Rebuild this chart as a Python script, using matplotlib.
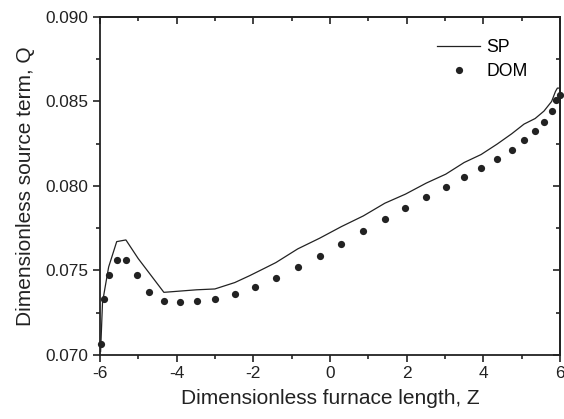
import matplotlib
matplotlib.use('Agg')
import matplotlib.pyplot as plt
from matplotlib.ticker import MultipleLocator, FormatStrFormatter

plt.rcParams['font.family'] = ['Liberation Sans', 'DejaVu Sans']
plt.rcParams['axes.unicode_minus'] = False

# SP solution (line)
z_sp = [-5.98, -5.93, -5.87, -5.77, -5.56, -5.32, -5.00, -4.33, -3.48, -3.00,
        -2.48, -2.09, -1.70, -1.41, -0.84, -0.27, 0.30, 0.87, 1.43, 1.97,
        2.51, 3.02, 3.50, 3.94, 4.36, 4.74, 5.06, 5.35, 5.58, 5.78,
        5.88, 5.93, 6.00]
q_sp = [0.0702, 0.0731, 0.0739, 0.0752, 0.0767, 0.0768, 0.0757, 0.0737, 0.07385, 0.0739,
        0.07428, 0.07469, 0.07513, 0.07546, 0.07627, 0.07690, 0.07759, 0.07822, 0.07897, 0.07951,
        0.08016, 0.08069, 0.08138, 0.08185, 0.08247, 0.08308, 0.08365, 0.08398, 0.08442, 0.08499,
        0.08558, 0.08578, 0.08578]

# DOM solution (points)
z_dom = [-5.97, -5.89, -5.76, -5.56, -5.32, -5.04, -4.71, -4.33, -3.92, -3.47,
         -2.99, -2.48, -1.96, -1.41, -0.84, -0.27, 0.30, 0.87, 1.43, 1.97,
         2.51, 3.02, 3.50, 3.94, 4.36, 4.74, 5.06, 5.35, 5.58, 5.78,
         5.90, 6.00]
q_dom = [0.07065, 0.07333, 0.07472, 0.07564, 0.07564, 0.07472, 0.07373, 0.07321, 0.07314, 0.07320,
         0.07331, 0.07359, 0.07400, 0.07452, 0.07517, 0.07586, 0.07657, 0.07730, 0.07801, 0.07871,
         0.07935, 0.07996, 0.08053, 0.08107, 0.08158, 0.08213, 0.08272, 0.08324, 0.08375, 0.08440,
         0.08509, 0.08538]

fig = plt.figure(figsize=(5.64, 4.19), dpi=100)
ax = fig.add_axes([0.177, 0.153, 0.816, 0.807])

ink = '#222222'
ax.plot(z_sp, q_sp, color=ink, lw=0.9, label='SP')
ax.plot(z_dom, q_dom, 'o', color=ink, ms=5.2, mec='none', label='DOM', clip_on=False)

ax.set_xlim(-6, 6)
ax.set_ylim(0.070, 0.090)
ax.xaxis.set_major_locator(MultipleLocator(2))
ax.xaxis.set_minor_locator(MultipleLocator(1))
ax.yaxis.set_major_locator(MultipleLocator(0.005))
ax.yaxis.set_minor_locator(MultipleLocator(0.0025))
ax.yaxis.set_major_formatter(FormatStrFormatter('%.3f'))
ax.tick_params(which='both', direction='out', color=ink, width=1.2, labelsize=12.4,
               labelcolor=ink, top=False, right=False)
ax.tick_params(which='major', length=5, pad=3)
ax.tick_params(which='minor', length=3)

# inward ticks on the top and right sides, no labels
top = ax.secondary_xaxis('top')
top.xaxis.set_major_locator(MultipleLocator(2))
top.xaxis.set_minor_locator(MultipleLocator(1))
top.tick_params(which='both', direction='in', labeltop=False, color=ink, width=1.2)
top.tick_params(which='major', length=5)
top.tick_params(which='minor', length=3)
right = ax.secondary_yaxis('right')
right.yaxis.set_major_locator(MultipleLocator(0.005))
right.yaxis.set_minor_locator(MultipleLocator(0.0025))
right.tick_params(which='both', direction='in', labelright=False, color=ink, width=1.2)
right.tick_params(which='major', length=5)
right.tick_params(which='minor', length=3)
for a in (ax, top, right):
    for s in a.spines.values():
        s.set_linewidth(1.3)
        s.set_color(ink)

ax.set_xlabel('Dimensionless furnace length, Z', fontsize=15, color=ink, labelpad=6)
ax.set_ylabel('Dimensionless source term, Q', fontsize=15, color=ink, labelpad=8)

ax.legend(loc='upper left', bbox_to_anchor=(0.733, 0.935), frameon=False, fontsize=12.7,
          handlelength=2.44, handletextpad=0.34, borderpad=0, borderaxespad=0,
          labelspacing=0.42)

fig.savefig('out.png', dpi=100)
